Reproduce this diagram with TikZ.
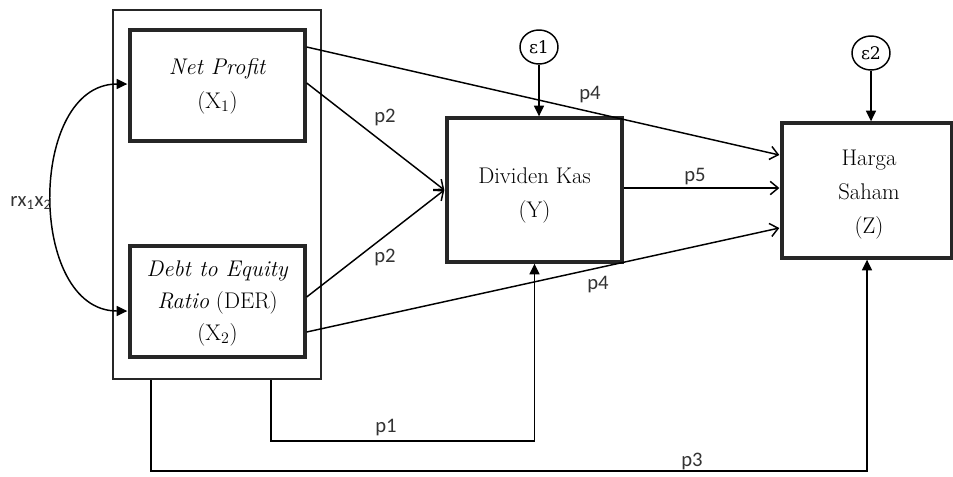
\documentclass[tikz,border=0pt]{standalone}
\usepackage{fontspec}
\newfontfamily\lblfont{Carlito}
\newfontfamily\grkfont{DejaVu Serif}
\usetikzlibrary{arrows.meta,calc,shapes.geometric}

\begin{document}
\begin{tikzpicture}[x=0.75pt,y=-0.75pt,
  box/.style={draw=black!85,line width=2.5pt,rectangle,inner sep=0pt},
  boxtext/.style={align=center,inner sep=0pt,font=\fontsize{17}{25.5}\selectfont},
  frame/.style={draw=black!85,line width=1.5pt,rectangle,inner sep=0pt},
  err/.style={draw,ellipse,line width=1.1pt,inner sep=0pt,minimum width=28.5pt,
    minimum height=25.5pt,font=\grkfont\fontsize{13}{15}\selectfont},
  pathway/.style={line width=1.1pt,-{Straight Barb[length=6pt,width=10pt]}},
  solidarrow/.style={line width=1.1pt,-{Triangle[length=8pt,width=7.5pt]}},
  coef/.style={font=\lblfont\fontsize{15.5}{17}\selectfont,text=black!80,inner sep=0pt}
]
\useasboundingbox (0,0) rectangle (953,476);

% exogenous block
\node[frame,minimum width=156pt,minimum height=276.75pt] (outer) at (217,194.5) {};
\node[box,minimum width=131.25pt,minimum height=83.25pt] (np) at (217.5,85.5) {};
\node[boxtext] (npt) at (217.5,86) {\textit{Net Profit}\\(X$_1$)};
\node[box,minimum width=131.25pt,minimum height=83.25pt] (der) at (217.5,301.5) {};
\node[boxtext,font=\fontsize{17}{24}\selectfont] (dert) at (217.5,303)
  {\textit{Debt to Equity}\\\textit{Ratio} (DER)\\(X$_2$)};

% endogenous variables
\node[box,minimum width=131.25pt,minimum height=108pt] (dk) at (534.5,190) {};
\node[boxtext] (dkt) at (534.5,195) {Dividen Kas\\(Y)};
\node[box,minimum width=127.5pt,minimum height=101.25pt] (hs) at (867,190.5) {};
\node[boxtext] (hst) at (869,195) {Harga\\Saham\\(Z)};

% error terms
\node[err] (e1) at (539,47) {ε1};
\node[err] (e2) at (871,53) {ε2};
\draw[solidarrow] (e1.south) -- (e1.south |- dk.north);
\draw[solidarrow] (e2.south) -- (e2.south |- hs.north);

% correlation between X1 and X2
\draw[line width=1.1pt,{Triangle[length=8pt,width=7.5pt]}-{Triangle[length=8pt,width=7.5pt]}]
  ($(np.west)+(-1,-1.5)$) .. controls +(-100,0) and +(-100,0) .. ($(der.west)+(-1,9.5)$);
\node[coef] (rlab) at (31,203) {rx\textsubscript{1}x\textsubscript{2}};

% direct paths
\draw[pathway] ($(np.east)+(0,-38.5)$) -- ($(hs.west)+(-1,-35.5)$);
\draw[pathway] ($(np.east)+(0,-2.5)$) -- ($(dk.west)+(-1,0)$);
\draw[pathway] ($(der.east)+(0,-4.5)$) -- ($(dk.west)+(-1,0)$);
\draw[pathway] ($(der.east)+(0,30.5)$) -- ($(hs.west)+(-1,37.5)$);
\draw[pathway] ($(dk.east)+(0,-2)$) -- ($(dk.east -| hs.west)+(-1,-2)$);

% paths from the bottom of the block
\draw[solidarrow] ($(outer.south west)+(159,0)$) -- ++(0,61) -| (dk.south);
\draw[solidarrow] ($(outer.south west)+(39,0)$) -- ++(0,91) -| (hs.south);

% path coefficients
\node[coef] (c2a) at (385,117) {p2};
\node[coef] (c2b) at (385,257) {p2};
\node[coef] (c4a) at (590,95) {p4};
\node[coef] (c4b) at (598,285) {p4};
\node[coef] (c5) at (695,177) {p5};
\node[coef] (c1) at (386,428) {p1};
\node[coef] (c3) at (692,461) {p3};
\end{tikzpicture}
\end{document}
